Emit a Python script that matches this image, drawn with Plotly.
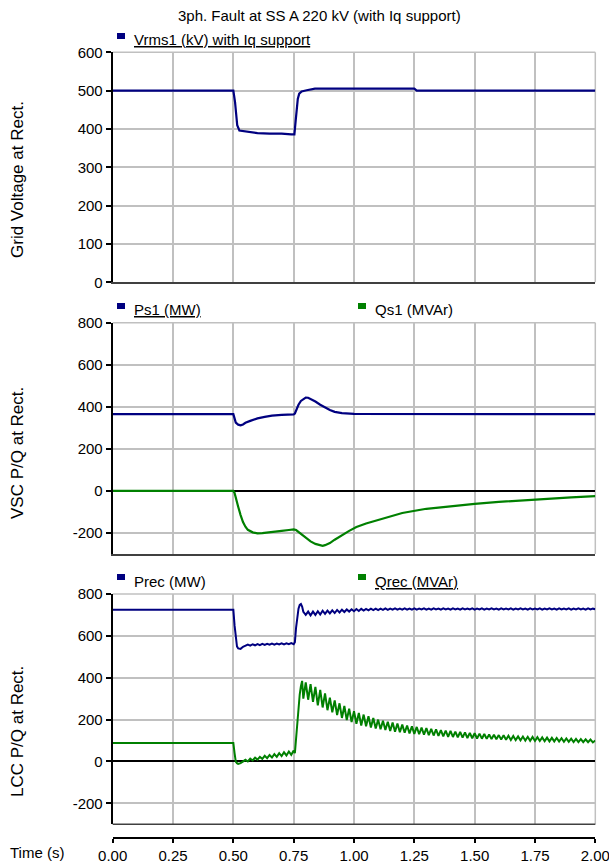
import plotly.graph_objects as go

# ---------------- data ----------------
t_vrms = [0.0, 0.500, 0.507, 0.516, 0.525, 0.55, 0.58, 0.60, 0.65, 0.70, 0.74, 0.753,
          0.758, 0.767, 0.773, 0.783, 0.804, 0.838, 1.25, 1.26, 2.0]
vrms = [500, 500, 470, 410, 396, 394, 392, 389, 388, 388, 386, 386,
        420, 478, 492, 498, 501, 505, 505, 500, 500]

t_ps1 = [0.0, 0.50, 0.505, 0.51, 0.52, 0.53, 0.54, 0.55, 0.57, 0.60, 0.63, 0.66, 0.70, 0.75,
         0.755, 0.76, 0.77, 0.78, 0.79, 0.80, 0.81, 0.82, 0.84, 0.86, 0.88, 0.90, 0.92, 0.95,
         1.00, 2.00]
ps1 = [365, 365, 345, 325, 315, 312, 316, 324, 333, 345, 352, 358, 362, 364,
       368, 385, 410, 428, 438, 444, 443, 438, 425, 410, 396, 385, 376, 370,
       366, 365]

t_qs1 = [0.0, 0.50, 0.505, 0.51, 0.52, 0.53, 0.54, 0.55, 0.56, 0.58, 0.60, 0.62, 0.65, 0.68,
         0.70, 0.73, 0.75, 0.76, 0.77, 0.78, 0.80, 0.82, 0.84, 0.86, 0.87, 0.88, 0.90, 0.92,
         0.95, 0.98, 1.01, 1.05, 1.10, 1.15, 1.20, 1.30, 1.40, 1.50, 1.60, 1.70, 1.80, 1.90,
         2.00]
qs1 = [0, 0, -10, -35, -75, -115, -148, -170, -185, -197, -202, -201, -198, -194,
       -190, -186, -183, -186, -195, -205, -222, -240, -252, -260, -261, -258, -248, -232,
       -210, -190, -172, -155, -138, -120, -105, -85, -72, -62, -52, -44, -37, -31,
       -25]

# LCC time pieces
t_lcc_pre = [0.0, 0.50, 0.505, 0.51, 0.515, 0.52, 0.53]
t_lcc_fault = [0.54, 0.55, 0.56, 0.57, 0.58, 0.59, 0.60, 0.61, 0.62, 0.63, 0.64,
               0.65, 0.66, 0.67, 0.68, 0.69, 0.70, 0.71, 0.72, 0.73, 0.74, 0.75]
t_lcc_rec = [0.755, 0.76, 0.765, 0.77, 0.775, 0.78, 0.785]
t_lcc_post = [0.79, 0.80, 0.81, 0.82, 0.83, 0.84, 0.85, 0.86, 0.87, 0.88, 0.89,
              0.90, 0.91, 0.92, 0.93, 0.94, 0.95, 0.96, 0.97, 0.98, 0.99,
              1.00, 1.01, 1.02, 1.03, 1.04, 1.05, 1.06, 1.07, 1.08, 1.09,
              1.10, 1.11, 1.12, 1.13, 1.14, 1.15, 1.16, 1.17, 1.18, 1.19,
              1.20, 1.21, 1.22, 1.23, 1.24, 1.25, 1.26, 1.27, 1.28, 1.29,
              1.30, 1.31, 1.32, 1.33, 1.34, 1.35, 1.36, 1.37, 1.38, 1.39,
              1.40, 1.41, 1.42, 1.43, 1.44, 1.45, 1.46, 1.47, 1.48, 1.49,
              1.50, 1.51, 1.52, 1.53, 1.54, 1.55, 1.56, 1.57, 1.58, 1.59,
              1.60, 1.61, 1.62, 1.63, 1.64, 1.65, 1.66, 1.67, 1.68, 1.69,
              1.70, 1.71, 1.72, 1.73, 1.74, 1.75, 1.76, 1.77, 1.78, 1.79,
              1.80, 1.81, 1.82, 1.83, 1.84, 1.85, 1.86, 1.87, 1.88, 1.89,
              1.90, 1.91, 1.92, 1.93, 1.94, 1.95, 1.96, 1.97, 1.98, 1.99, 2.00]

prec_pre = [725, 725, 650, 580, 550, 540, 538]
prec_fault = [548, 555, 558, 553, 560, 555, 561, 556, 562, 557, 562,
              558, 563, 558, 563, 559, 564, 559, 564, 560, 565, 560]
prec_rec = [570, 640, 690, 730, 748, 752, 740]
prec_post = [715, 700, 716, 698, 716, 700, 718, 702, 720, 705, 721,
             707, 722, 709, 724, 712, 725, 714, 726, 716, 727,
             718, 728, 719, 729, 721, 729, 722, 730, 723, 730,
             723, 730, 724, 731, 724, 730, 725, 731, 725, 730,
             725, 731, 725, 730, 725, 731, 725, 730, 726, 731,
             725, 730, 725, 731, 726, 730, 725, 731, 726, 730,
             725, 731, 726, 730, 725, 731, 726, 730, 726, 731,
             725, 730, 726, 731, 725, 730, 726, 731, 726, 730,
             725, 731, 726, 730, 726, 731, 725, 730, 726, 731,
             726, 730, 725, 731, 726, 730, 726, 731, 725, 730,
             726, 731, 726, 730, 725, 731, 726, 730, 726, 731,
             725, 730, 726, 731, 726, 730, 725, 731, 726, 730, 727]

qrec_pre = [88, 88, 40, 0, -8, -12, -8]
qrec_fault = [-2, 8, 0, 14, 5, 18, 9, 22, 13, 27, 16,
              31, 19, 35, 22, 40, 26, 44, 29, 48, 32, 52]
qrec_rec = [40, 120, 200, 270, 320, 360, 385]
qrec_post = [300, 378, 295, 370, 285, 356, 268, 342, 258, 325, 245,
             305, 235, 292, 222, 278, 208, 265, 198, 252, 188,
             240, 180, 232, 172, 224, 168, 216, 162, 208, 158,
             200, 154, 194, 150, 190, 146, 186, 142, 181, 140,
             176, 137, 172, 134, 168, 132, 165, 130, 162, 128,
             159, 126, 156, 124, 153, 122, 150, 120, 148, 118,
             146, 117, 143, 115, 141, 114, 139, 112, 137, 111,
             135, 110, 133, 109, 131, 108, 129, 107, 128, 106,
             126, 105, 125, 104, 123, 103, 122, 102, 120, 101,
             119, 100, 118, 99, 117, 98, 116, 98, 115, 97,
             114, 96, 113, 96, 112, 95, 111, 94, 110, 94,
             109, 93, 108, 93, 107, 92, 106, 92, 105, 91, 100]

t_lcc = t_lcc_pre + t_lcc_fault + t_lcc_rec + t_lcc_post
prec = prec_pre + prec_fault + prec_rec + prec_post
qrec = qrec_pre + qrec_fault + qrec_rec + qrec_post

x_ticks = [0.0, 0.25, 0.5, 0.75, 1.0, 1.25, 1.5, 1.75, 2.0]
y1_ticks = [0, 100, 200, 300, 400, 500, 600]
pq_ticks = [-200, 0, 200, 400, 600, 800]

title_text = "3ph. Fault at SS A 220 kV (with Iq support)"

# ---------------- layout helpers ----------------
W, H = 609, 865
def px(x):
    return x / W
def py(y):
    return 1 - y / H

BLUE = "#000080"
GREEN = "#008000"
GRID = "#c0c0c0"
FONT = "Liberation Sans, Arial, sans-serif"

xd = [px(112.7), px(595.3)]
d1 = [py(282.3), py(52.3)]
d2 = [py(554.0), py(322.7)]
d3 = [py(824.3), py(594.0)]

fig = go.Figure()
fig.add_trace(go.Scatter(x=t_vrms, y=vrms, mode="lines", line=dict(color=BLUE, width=2.2),
                         xaxis="x", yaxis="y", name="Vrms1 (kV) with Iq support"))
fig.add_trace(go.Scatter(x=t_ps1, y=ps1, mode="lines", line=dict(color=BLUE, width=2.2),
                         xaxis="x2", yaxis="y2", name="Ps1 (MW)"))
fig.add_trace(go.Scatter(x=t_qs1, y=qs1, mode="lines", line=dict(color=GREEN, width=2.2),
                         xaxis="x2", yaxis="y2", name="Qs1 (MVAr)"))
fig.add_trace(go.Scatter(x=t_lcc, y=prec, mode="lines", line=dict(color=BLUE, width=2),
                         xaxis="x3", yaxis="y3", name="Prec (MW)"))
fig.add_trace(go.Scatter(x=t_lcc, y=qrec, mode="lines", line=dict(color=GREEN, width=2),
                         xaxis="x3", yaxis="y3", name="Qrec (MVAr)"))

common_x = dict(domain=xd, range=[0, 2], tickvals=x_ticks, showgrid=True, gridcolor=GRID,
                gridwidth=1.5, zeroline=False, automargin=False)
common_y = dict(ticks="outside", ticklen=5, tickcolor="black", tickwidth=1.5,
                showline=True, linecolor="black", linewidth=2, showgrid=True,
                gridcolor=GRID, gridwidth=1.5, automargin=False, tickfont=dict(size=15))
fig.update_layout(
    width=W, height=H, margin=dict(l=0, r=0, t=0, b=0, autoexpand=False),
    paper_bgcolor="white", plot_bgcolor="white", showlegend=False,
    font=dict(family=FONT, size=15, color="black"),
    xaxis=dict(**common_x, anchor="y", showticklabels=False, ticks="",
               showline=True, linecolor="#404040", linewidth=1.5),
    xaxis2=dict(**common_x, anchor="y2", showticklabels=False, ticks="",
                showline=True, linecolor="#404040", linewidth=1.5),
    xaxis3=dict(**common_x, anchor="free", position=py(838), showticklabels=True,
                ticks="outside", ticklen=4, tickcolor="black", tickwidth=1.5,
                tickformat=".2f", showline=True, linecolor="black", linewidth=1.5,
                tickfont=dict(size=15), ticklabeloverflow="allow"),
    yaxis=dict(**common_y, domain=d1, range=[0, 600], tickvals=y1_ticks, zeroline=False,
               anchor="x"),
    yaxis2=dict(**common_y, domain=d2, range=[-300, 800], tickvals=pq_ticks,
                ticktext=[str(v) for v in pq_ticks], zeroline=True,
                zerolinecolor="black", zerolinewidth=1.5, anchor="x2"),
    yaxis3=dict(**common_y, domain=d3, range=[-300, 800], tickvals=pq_ticks,
                ticktext=[str(v) for v in pq_ticks], zeroline=True,
                zerolinecolor="black", zerolinewidth=1.5, anchor="x3"),
)

# panel frames: grey top/right edges, dark bottom edge of last panel
for dom in (d1, d2, d3):
    fig.add_shape(type="line", xref="paper", yref="paper", x0=xd[0], x1=xd[1],
                  y0=dom[1], y1=dom[1], line=dict(color=GRID, width=1.5), layer="below")
    fig.add_shape(type="line", xref="paper", yref="paper", x0=xd[1], x1=xd[1],
                  y0=dom[0], y1=dom[1], line=dict(color=GRID, width=1.5), layer="below")
fig.add_shape(type="line", xref="paper", yref="paper", x0=xd[0], x1=xd[1], y0=d3[0], y1=d3[0],
              line=dict(color="#404040", width=1.5))

annotations = []
# title
annotations.append(dict(text=title_text, x=px(319), y=py(16), xref="paper", yref="paper",
                        showarrow=False, xanchor="center", yanchor="middle",
                        font=dict(size=15)))
# y axis titles
for txt, yc in [("Grid Voltage at Rect.", 180), ("VSC P/Q at Rect.", 453),
                ("LCC P/Q at Rect.", 732)]:
    annotations.append(dict(text=txt, x=px(17), y=py(yc), xref="paper", yref="paper",
                            showarrow=False, textangle=-90, xanchor="center", yanchor="middle",
                            font=dict(size=17)))
annotations.append(dict(text="Time (s)", x=px(8), y=py(852), xref="paper", yref="paper",
                        showarrow=False, xanchor="left", yanchor="middle", font=dict(size=15)))

# legend entries: (label, color, x of square, y centre, underline)
legend_items = [("Vrms1 (kV) with Iq support", BLUE, 117, 40, True),
                ("Ps1 (MW)", BLUE, 117, 310, True),
                ("Qs1 (MVAr)", GREEN, 358, 310, False),
                ("Prec (MW)", BLUE, 117, 581, False),
                ("Qrec (MVAr)", GREEN, 358, 581, True)]
for label, col, xs, yc, ul in legend_items:
    fig.add_shape(type="rect", xref="paper", yref="paper",
                  x0=px(xs), x1=px(xs + 8), y0=py(yc - 1), y1=py(yc - 7),
                  fillcolor=col, line=dict(width=0))
    f = dict(size=15)
    if ul:
        f["lineposition"] = "under"
    annotations.append(dict(text=label, x=px(xs + 15), y=py(yc), xref="paper", yref="paper",
                            showarrow=False, xanchor="left", yanchor="middle", font=f))

fig.update_layout(annotations=annotations)
fig.write_html("out.html")
